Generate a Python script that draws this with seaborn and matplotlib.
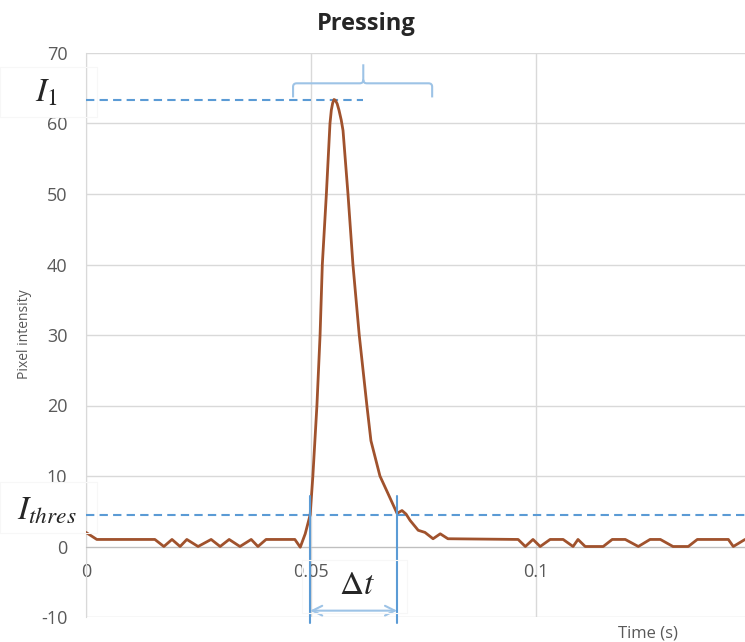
import matplotlib
matplotlib.use("Agg")
import matplotlib.pyplot as plt
import seaborn as sns
import pandas as pd
from matplotlib.path import Path
from matplotlib.patches import PathPatch, Rectangle

# curve (time in s, pixel intensity)
time_s = [
    0.0000, 0.0024, 0.0153, 0.0173, 0.0191, 0.0209, 0.0224, 0.0249, 0.0278,
    0.0298, 0.0318, 0.0342, 0.0367, 0.0382, 0.0400, 0.0464, 0.0476, 0.0487,
    0.0498, 0.0504, 0.0513, 0.0520, 0.0525, 0.0534, 0.0542, 0.0545, 0.0548,
    0.0551, 0.0554, 0.0558, 0.0562, 0.0567, 0.0571, 0.0582, 0.0593, 0.0607,
    0.0624, 0.0633, 0.0653, 0.0671, 0.0691, 0.0702, 0.0711, 0.0720, 0.0738,
    0.0753, 0.0771, 0.0787, 0.0804, 0.0960, 0.0976, 0.0993, 0.1009, 0.1031,
    0.1060, 0.1082, 0.1093, 0.1109, 0.1149, 0.1169, 0.1198, 0.1227, 0.1253,
    0.1276, 0.1304, 0.1338, 0.1358, 0.1427, 0.1438, 0.1464,
]
intensity = [
    2.0, 1.0, 1.0, 0.0, 1.0, 0.0, 1.0, 0.0, 1.0,
    0.0, 1.0, 0.0, 1.0, 0.0, 1.0, 1.0, -0.1, 1.8,
    4.5, 10.0, 20.0, 30.0, 40.0, 50.0, 60.0, 61.9, 62.9,
    63.4, 63.3, 62.8, 61.9, 60.5, 59.0, 50.0, 40.0, 30.0,
    20.0, 15.0, 10.0, 7.5, 4.7, 5.1, 4.6, 3.7, 2.3,
    2.0, 1.1, 1.8, 1.1, 1.0, 0.0, 1.0, 0.0, 1.0,
    1.0, 0.0, 1.0, 0.0, 0.0, 1.0, 1.0, 0.0, 1.0,
    1.0, 0.0, 0.0, 1.0, 1.0, 0.0, 1.0,
]

x_ticks = [0, 0.05, 0.1]
x_tick_labels = ["0", "0.05", "0.1"]
y_ticks = [-10, 0, 10, 20, 30, 40, 50, 60, 70]

I1 = 63.4
I_THRES = 4.5
T_START = 0.0498
T_END = 0.0691

W, H = 745, 642
BLUE = "#5B9BD5"
LIGHT_BLUE = "#9DC3E6"
GRAY = "#595959"

sns.set_style("white")
plt.rcParams["font.family"] = ["Open Sans", "DejaVu Sans"]
plt.rcParams["mathtext.fontset"] = "stix"
plt.rcParams["axes.unicode_minus"] = False

df = pd.DataFrame({"time": time_s, "intensity": intensity})

fig = plt.figure(figsize=(W / 100, H / 100), dpi=100)
ax = fig.add_axes([86 / W, 25 / H, (W - 86) / W, 564 / H])

sns.lineplot(data=df, x="time", y="intensity", ax=ax, color="#A0522D",
             lw=2.0, estimator=None, sort=False, zorder=4)

ax.set_xlim(0, 0.1464)
ax.set_ylim(-10, 70)
ax.set_xticks(x_ticks)
ax.set_xticklabels(x_tick_labels)
ax.set_yticks(y_ticks)
ax.set_xlabel("")
ax.set_ylabel("")
ax.grid(True, color="#D9D9D9", lw=1)
ax.set_axisbelow(True)
for s in ["top", "right"]:
    ax.spines[s].set_visible(False)
ax.spines["left"].set_color("#D9D9D9")
ax.spines["bottom"].set_position(("data", 0))
ax.spines["bottom"].set_color("#BFBFBF")
ax.tick_params(axis="x", length=0, pad=12, labelsize=13, labelcolor=GRAY)
ax.tick_params(axis="y", length=0, pad=13.5, labelsize=13, labelcolor=GRAY)

# dashed guide lines
ax.plot([0, 0.0616], [I1, I1], color=BLUE, lw=1.5, ls=(0, (4, 2.5)), zorder=3)
ax.axhline(I_THRES, color=BLUE, lw=1.5, ls=(0, (4, 2.5)), zorder=3)

# brace above the peak
x0, xm, x1 = 0.046, 0.0616, 0.0769
yb, ylo, ytip = 65.7, 63.7, 68.4
dx, dy = 0.0008, 0.5
verts = [
    (x0, ylo), (x0, yb - dy), (x0, yb), (x0 + dx, yb),
    (xm - dx, yb), (xm, yb), (xm, yb + dy), (xm, ytip),
    (xm, yb + dy), (xm, yb), (xm + dx, yb),
    (x1 - dx, yb), (x1, yb), (x1, yb - dy), (x1, ylo),
]
codes = [
    Path.MOVETO, Path.LINETO, Path.CURVE3, Path.CURVE3,
    Path.LINETO, Path.CURVE3, Path.CURVE3, Path.LINETO,
    Path.MOVETO, Path.CURVE3, Path.CURVE3,
    Path.LINETO, Path.CURVE3, Path.CURVE3, Path.LINETO,
]
ax.add_patch(PathPatch(Path(verts, codes), fill=False, edgecolor=LIGHT_BLUE,
                       lw=1.5, clip_on=False, zorder=3))

# delta t markers
for t in (T_START, T_END):
    ax.plot([t, t], [7.2, -10.9], color=BLUE, lw=1.5, clip_on=False, zorder=5)
ax.annotate("", xy=(T_START, -9.1), xytext=(T_END, -9.1),
            arrowprops=dict(arrowstyle="<->,head_length=0.7,head_width=0.35",
                            color=LIGHT_BLUE, lw=1.5, shrinkA=0, shrinkB=0),
            annotation_clip=False)

# very faint text-box outlines, as in the reference
for bx, by, bw, bh in [(0, 67, 97, 50), (0, 482, 97, 51), (302, 560, 105, 53)]:
    fig.patches.append(Rectangle((bx / W, 1 - (by + bh) / H), bw / W, bh / H,
                                 transform=fig.transFigure, fill=False,
                                 edgecolor="#F7F7F7", lw=0.8))

fig.text(357 / W, 1 - 586 / H, r"$\Delta t$", size=24, ha="center", va="center")
fig.text(46 / W, 1 - 93 / H, r"$I_1$", size=24, ha="center", va="center")
fig.text(47 / W, 1 - 511 / H, r"$I_{thres}$", size=24, ha="center", va="center")

fig.text(366 / W, 1 - 24 / H, "Pressing", size=17, weight="bold",
         ha="center", va="center")
fig.text(648 / W, 1 - 633 / H, "Time (s)", size=12, color=GRAY,
         ha="center", va="center")
fig.text(24 / W, 1 - 334 / H, "Pixel intensity", size=10, color=GRAY,
         rotation=90, ha="center", va="center")

fig.savefig("out.png", dpi=100)
